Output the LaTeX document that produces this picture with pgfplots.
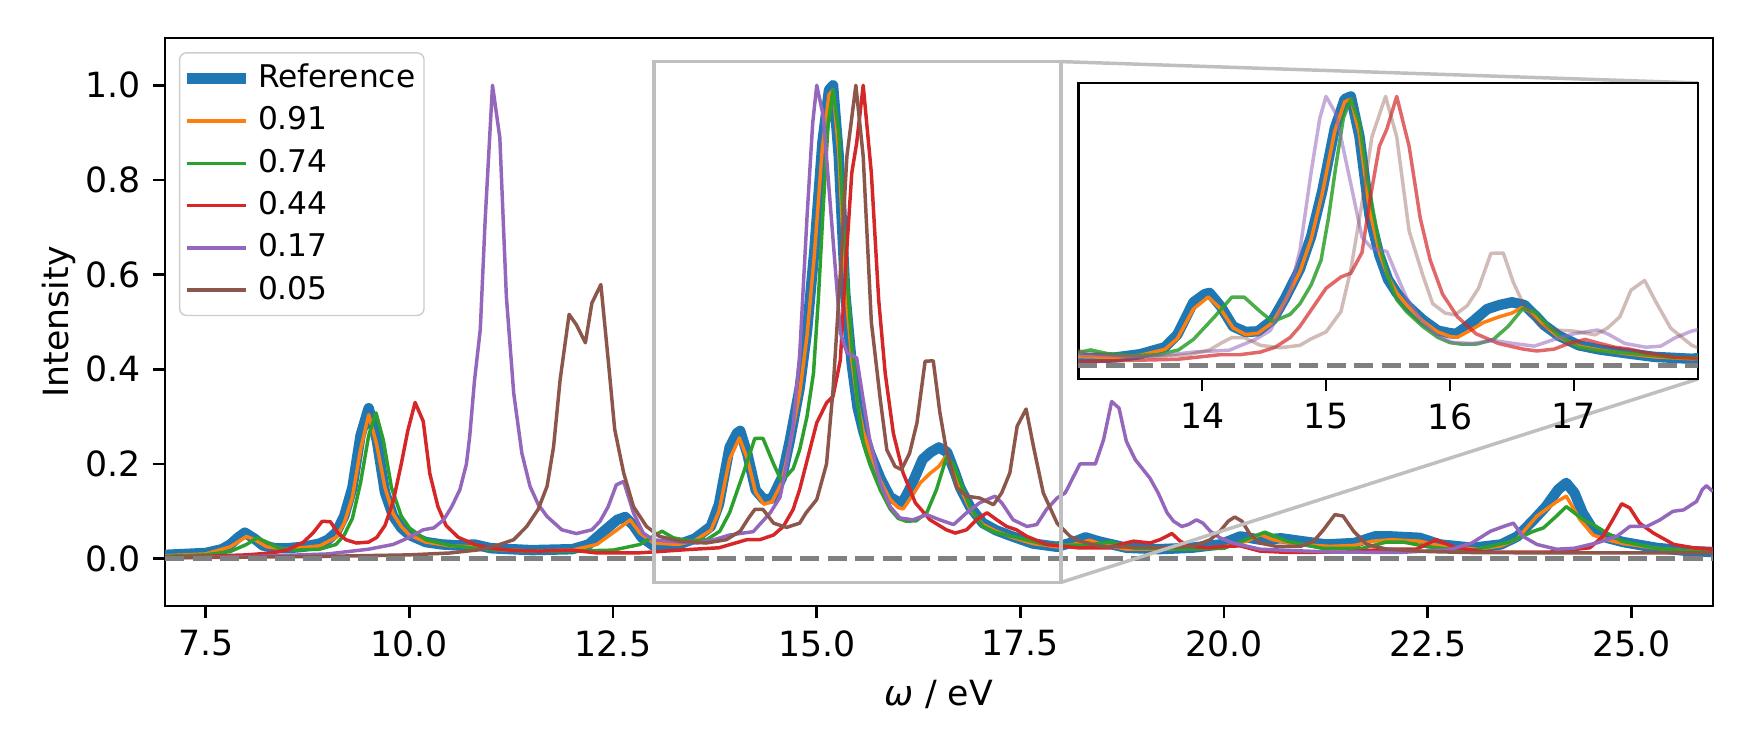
\documentclass[border=0pt]{standalone}
\usepackage{fontspec}
\setmainfont{DejaVu Sans}
\usepackage{pgfplots}
\usepackage{pgfplotstable}
\pgfplotsset{compat=1.18}
\definecolor{c0}{HTML}{1F77B4}
\definecolor{c1}{HTML}{FF7F0E}
\definecolor{c2}{HTML}{2CA02C}
\definecolor{c3}{HTML}{D62728}
\definecolor{c4}{HTML}{9467BD}
\definecolor{c5}{HTML}{8C564B}
\definecolor{zl}{rgb}{0.75,0.75,0.75}
\definecolor{dg}{rgb}{0.5,0.5,0.5}

\pgfplotstableread{
x y
7.0 0.008
7.5 0.012
7.7 0.02
7.8 0.03
7.9 0.045
7.98 0.055
8.1 0.042
8.2 0.028
8.35 0.022
8.5 0.022
8.7 0.025
8.9 0.032
9.0 0.04
9.1 0.055
9.2 0.09
9.3 0.15
9.4 0.26
9.5 0.318
9.6 0.25
9.7 0.14
9.8 0.09
9.9 0.065
10.0 0.05
10.2 0.035
10.4 0.03
10.6 0.028
10.8 0.03
11.0 0.022
11.5 0.018
12.0 0.02
12.2 0.03
12.4 0.06
12.55 0.082
12.65 0.088
12.75 0.07
12.85 0.045
13.0 0.027
13.3 0.03
13.5 0.042
13.7 0.068
13.8 0.115
13.93 0.235
14.02 0.265
14.06 0.27
14.15 0.22
14.25 0.145
14.35 0.125
14.45 0.127
14.57 0.17
14.67 0.25
14.79 0.36
14.88 0.48
14.97 0.65
15.07 0.88
15.15 0.99
15.2 1.0
15.27 0.85
15.35 0.56
15.43 0.41
15.5 0.32
15.57 0.27
15.65 0.225
15.78 0.17
15.9 0.13
16.0 0.12
16.05 0.118
16.12 0.14
16.2 0.17
16.3 0.21
16.4 0.225
16.5 0.235
16.6 0.225
16.7 0.18
16.76 0.15
16.88 0.11
17.04 0.075
17.2 0.06
17.4 0.047
17.65 0.032
17.95 0.025
18.15 0.035
18.3 0.045
18.45 0.037
18.8 0.023
19.2 0.02
19.6 0.023
19.95 0.03
20.2 0.047
20.45 0.04
20.7 0.043
20.95 0.037
21.25 0.03
21.6 0.033
21.85 0.047
22.05 0.047
22.4 0.044
22.65 0.03
23.05 0.023
23.4 0.03
23.6 0.047
23.8 0.082
23.95 0.11
24.1 0.146
24.2 0.16
24.3 0.139
24.4 0.097
24.53 0.061
24.7 0.044
24.9 0.035
25.3 0.023
25.7 0.016
26.0 0.014
}\tblRef

\pgfplotstableread{
x y
7.0 0.006
7.5 0.01
7.8 0.025
8.0 0.047
8.1 0.04
8.25 0.025
8.5 0.02
8.9 0.027
9.1 0.045
9.2 0.075
9.3 0.13
9.4 0.23
9.5 0.304
9.6 0.24
9.7 0.15
9.8 0.095
9.9 0.068
10.0 0.05
10.2 0.035
10.5 0.027
10.8 0.025
11.0 0.02
11.5 0.016
12.0 0.018
12.3 0.03
12.55 0.061
12.71 0.082
12.83 0.054
13.0 0.033
13.3 0.03
13.5 0.038
13.7 0.06
13.8 0.1
13.93 0.21
14.05 0.255
14.15 0.21
14.25 0.14
14.35 0.115
14.45 0.12
14.57 0.16
14.67 0.24
14.79 0.35
14.88 0.47
14.97 0.64
15.07 0.87
15.15 0.98
15.2 0.99
15.27 0.86
15.35 0.58
15.43 0.42
15.5 0.33
15.57 0.27
15.65 0.225
15.78 0.165
15.9 0.125
16.0 0.108
16.06 0.105
16.18 0.135
16.27 0.16
16.39 0.18
16.5 0.195
16.58 0.215
16.65 0.2
16.76 0.15
16.88 0.105
17.04 0.072
17.2 0.058
17.4 0.045
17.65 0.032
17.95 0.025
18.15 0.03
18.35 0.039
18.5 0.03
18.8 0.02
19.5 0.02
20.0 0.025
20.28 0.037
20.44 0.051
20.6 0.04
20.9 0.03
21.3 0.026
21.6 0.028
21.83 0.037
22.05 0.04
22.4 0.037
22.7 0.025
23.1 0.02
23.4 0.027
23.6 0.042
23.84 0.09
24.08 0.12
24.2 0.132
24.37 0.082
24.53 0.05
24.7 0.04
24.9 0.032
25.3 0.022
25.7 0.016
26.0 0.013
}\tblA

\pgfplotstableread{
x y
7.0 0.005
7.5 0.008
7.8 0.015
8.0 0.03
8.13 0.044
8.25 0.035
8.4 0.022
8.6 0.018
8.9 0.02
9.1 0.03
9.2 0.05
9.3 0.085
9.4 0.16
9.5 0.26
9.59 0.308
9.68 0.25
9.78 0.15
9.9 0.09
10.0 0.065
10.2 0.04
10.5 0.028
10.8 0.022
11.0 0.02
11.5 0.016
12.0 0.016
12.5 0.018
12.83 0.03
12.99 0.047
13.1 0.058
13.24 0.044
13.45 0.037
13.65 0.04
13.81 0.058
13.93 0.097
14.1 0.181
14.24 0.254
14.34 0.254
14.47 0.2
14.57 0.163
14.71 0.19
14.79 0.23
14.88 0.3
14.96 0.392
15.02 0.55
15.08 0.744
15.14 0.92
15.2 0.99
15.27 0.9
15.33 0.7
15.43 0.45
15.5 0.33
15.57 0.245
15.65 0.2
15.78 0.145
15.9 0.105
16.0 0.085
16.1 0.079
16.22 0.08
16.35 0.097
16.47 0.146
16.59 0.213
16.68 0.2
16.78 0.153
16.88 0.11
17.04 0.068
17.2 0.055
17.4 0.047
17.8 0.03
18.3 0.028
18.6 0.035
18.9 0.022
19.5 0.02
20.0 0.022
20.28 0.041
20.5 0.056
20.77 0.037
21.2 0.022
21.7 0.022
21.99 0.035
22.2 0.035
22.5 0.025
23.0 0.016
23.5 0.035
23.8 0.058
23.92 0.065
24.08 0.09
24.2 0.11
24.41 0.082
24.53 0.072
24.7 0.054
24.88 0.037
25.3 0.022
25.7 0.016
26.0 0.013
}\tblB

\pgfplotstableread{
x y
7.0 0.003
7.5 0.005
8.0 0.008
8.3 0.012
8.5 0.018
8.7 0.035
8.82 0.055
8.93 0.079
9.03 0.078
9.12 0.055
9.22 0.04
9.35 0.033
9.5 0.035
9.6 0.045
9.7 0.07
9.8 0.12
9.9 0.2
9.98 0.27
10.07 0.33
10.17 0.29
10.25 0.18
10.35 0.11
10.45 0.07
10.6 0.045
10.8 0.03
11.0 0.022
11.3 0.017
11.6 0.016
12.0 0.018
12.3 0.012
12.8 0.012
13.4 0.019
13.8 0.023
14.14 0.04
14.3 0.04
14.47 0.05
14.59 0.068
14.71 0.104
14.79 0.146
14.9 0.22
15.0 0.287
15.12 0.329
15.2 0.343
15.29 0.42
15.35 0.604
15.43 0.815
15.49 0.878
15.57 1.0
15.67 0.815
15.76 0.547
15.84 0.392
15.94 0.265
16.06 0.181
16.21 0.118
16.39 0.082
16.59 0.061
16.7 0.054
16.84 0.061
16.96 0.082
17.09 0.097
17.21 0.082
17.33 0.068
17.45 0.061
17.58 0.047
17.82 0.03
18.2 0.023
18.6 0.023
18.72 0.03
18.89 0.037
19.09 0.033
19.21 0.04
19.36 0.053
19.46 0.037
19.58 0.026
19.79 0.023
20.03 0.026
20.2 0.027
20.44 0.016
20.8 0.013
21.5 0.014
22.0 0.02
22.36 0.02
22.6 0.04
22.85 0.023
23.2 0.014
24.0 0.014
24.49 0.023
24.65 0.047
24.77 0.082
24.88 0.116
24.98 0.107
25.1 0.075
25.27 0.054
25.52 0.03
25.76 0.023
26.0 0.02
}\tblC

\pgfplotstableread{
x y
7.0 0.002
8.0 0.004
9.0 0.01
9.5 0.02
9.8 0.03
10.0 0.045
10.17 0.061
10.3 0.065
10.42 0.082
10.52 0.11
10.62 0.146
10.7 0.2
10.74 0.258
10.8 0.378
10.87 0.484
10.93 0.716
11.02 1.0
11.11 0.889
11.19 0.554
11.28 0.35
11.38 0.223
11.48 0.153
11.58 0.115
11.69 0.089
11.87 0.061
12.05 0.053
12.24 0.061
12.34 0.079
12.44 0.11
12.54 0.156
12.63 0.163
12.75 0.097
12.87 0.054
12.99 0.04
13.16 0.037
13.53 0.033
13.74 0.04
13.93 0.05
14.22 0.057
14.43 0.097
14.55 0.13
14.63 0.2
14.71 0.28
14.79 0.43
14.88 0.72
14.95 0.92
15.0 1.0
15.08 0.935
15.2 0.674
15.29 0.477
15.37 0.435
15.49 0.424
15.57 0.336
15.65 0.251
15.78 0.16
15.9 0.11
16.02 0.086
16.18 0.082
16.35 0.093
16.51 0.082
16.68 0.072
16.84 0.097
17.0 0.118
17.19 0.132
17.27 0.118
17.41 0.082
17.58 0.068
17.7 0.072
17.82 0.104
17.95 0.128
18.05 0.139
18.23 0.2
18.42 0.2
18.52 0.251
18.62 0.332
18.71 0.318
18.8 0.248
18.91 0.209
19.09 0.17
19.19 0.139
19.3 0.097
19.38 0.079
19.48 0.068
19.56 0.072
19.66 0.082
19.74 0.075
19.83 0.058
19.95 0.044
20.11 0.033
20.44 0.02
20.85 0.017
21.3 0.014
22.15 0.013
22.77 0.019
23.04 0.033
23.27 0.058
23.43 0.068
23.55 0.075
23.67 0.047
23.84 0.03
24.08 0.02
24.3 0.022
24.57 0.033
24.82 0.047
24.98 0.068
25.19 0.068
25.35 0.082
25.51 0.1
25.64 0.103
25.8 0.121
25.87 0.146
25.92 0.154
26.0 0.142
}\tblD

\pgfplotstableread{
x y
7.0 0.002
8.0 0.003
9.0 0.005
10.0 0.008
10.5 0.012
10.87 0.019
11.11 0.03
11.28 0.04
11.44 0.068
11.58 0.104
11.69 0.153
11.77 0.237
11.85 0.378
11.96 0.516
12.05 0.494
12.16 0.456
12.24 0.54
12.35 0.579
12.44 0.42
12.52 0.273
12.63 0.181
12.75 0.11
12.91 0.068
13.07 0.047
13.32 0.037
13.64 0.033
13.89 0.04
14.06 0.058
14.16 0.085
14.24 0.104
14.34 0.104
14.47 0.075
14.63 0.066
14.79 0.075
14.87 0.097
15.0 0.125
15.12 0.2
15.2 0.357
15.29 0.604
15.37 0.85
15.48 1.0
15.57 0.85
15.67 0.5
15.78 0.336
15.86 0.23
15.96 0.195
16.04 0.188
16.14 0.223
16.23 0.287
16.33 0.417
16.43 0.418
16.51 0.31
16.59 0.23
16.72 0.15
16.84 0.132
17.0 0.128
17.17 0.114
17.27 0.139
17.37 0.181
17.46 0.28
17.57 0.316
17.66 0.237
17.78 0.139
17.95 0.075
18.11 0.047
18.23 0.037
18.48 0.026
19.2 0.023
19.62 0.026
19.83 0.04
19.95 0.058
20.05 0.079
20.13 0.088
20.22 0.079
20.32 0.051
20.44 0.033
20.64 0.026
20.94 0.026
21.1 0.037
21.22 0.061
21.36 0.093
21.46 0.09
21.59 0.058
21.75 0.03
22.0 0.02
22.5 0.015
23.0 0.013
24.0 0.012
25.0 0.012
26.0 0.012
}\tblE

\pgfplotsset{
  common/.style={
    scale only axis,
    axis line style={line width=0.8pt},
    every tick/.style={black, line width=0.8pt},
    tick align=outside,
    major tick length=3.5pt,
    tick pos=left,
    /pgf/number format/assume math mode=true,
    tick label style={font=\fontsize{10}{12}\selectfont},
  },
  thin/.style={line width=1pt, line join=round},
  thick/.style={line width=3pt, line join=round},
}

\begin{document}
\begin{tikzpicture}
\useasboundingbox (0,0) rectangle (504pt,216pt);
\begin{axis}[common,
  name=main,
  at={(47.52pt,41.47pt)}, anchor=south west,
  width=445.8pt, height=163.6pt,
  xmin=7, xmax=26, ymin=-0.1, ymax=1.1,
  xtick={7.5,10,12.5,15,17.5,20,22.5,25},
  ytick={0,0.2,0.4,0.6,0.8,1.0},
  xticklabel style={/pgf/number format/.cd, fixed, fixed zerofill, precision=1},
  yticklabel style={/pgf/number format/.cd, fixed, fixed zerofill, precision=1},
  xlabel={{\itshape ω} / eV},
  ylabel={Intensity},
  ylabel shift=-4pt,
  label style={font=\fontsize{10}{12}\selectfont},
  legend style={at={(0.009,0.975)}, anchor=north west, draw=black!20, rounded corners=2pt,
    fill=white, fill opacity=0.8, text opacity=1,
    font=\fontsize{9}{10.8}\selectfont, row sep=0pt, inner xsep=0.5pt, inner ysep=1.2pt},
  legend cell align=left,
]
\addplot[c0, thick] table {\tblRef};
\addlegendentry{Reference}
\addplot[c1, thin] table {\tblA};
\addlegendentry{0.91}
\addplot[c2, thin] table {\tblB};
\addlegendentry{0.74}
\addplot[c3, thin] table {\tblC};
\addlegendentry{0.44}
\addplot[c4, thin] table {\tblD};
\addlegendentry{0.17}
\addplot[c5, thin] table {\tblE};
\addlegendentry{0.05}
\draw[dg, line width=1.5pt, dash pattern=on 5.55pt off 2.4pt] (axis cs:7,0) -- (axis cs:26,0);
\draw[zl, line width=1pt] (axis cs:13,-0.05) rectangle (axis cs:18,1.05);
\coordinate (rtr) at (axis cs:18,1.05);
\coordinate (rbr) at (axis cs:18,-0.05);
\end{axis}
\draw[zl, line width=1pt] (rtr) -- (489.0pt,192.1pt);
\draw[zl, line width=1pt] (rbr) -- (489.0pt,106.85pt);
\begin{axis}[common,
  name=inset,
  at={(310.5pt,106.85pt)}, anchor=south west,
  width=178.5pt, height=85.25pt,
  xmin=13, xmax=18, ymin=-0.05, ymax=1.05,
  xtick={14,15,16,17}, ytick=\empty,
  axis background/.style={fill=white},
]
\addplot[c0, thick] table {\tblRef};
\addplot[c1, thin] table {\tblA};
\addplot[c2, thin, opacity=0.85] table {\tblB};
\addplot[c3, thin, opacity=0.7] table {\tblC};
\addplot[c4, thin, opacity=0.55] table {\tblD};
\addplot[c5, thin, opacity=0.4] table {\tblE};
\draw[dg, line width=1.5pt, dash pattern=on 5.55pt off 2.4pt] (axis cs:13,0) -- (axis cs:18,0);
\end{axis}
\end{tikzpicture}
\end{document}
